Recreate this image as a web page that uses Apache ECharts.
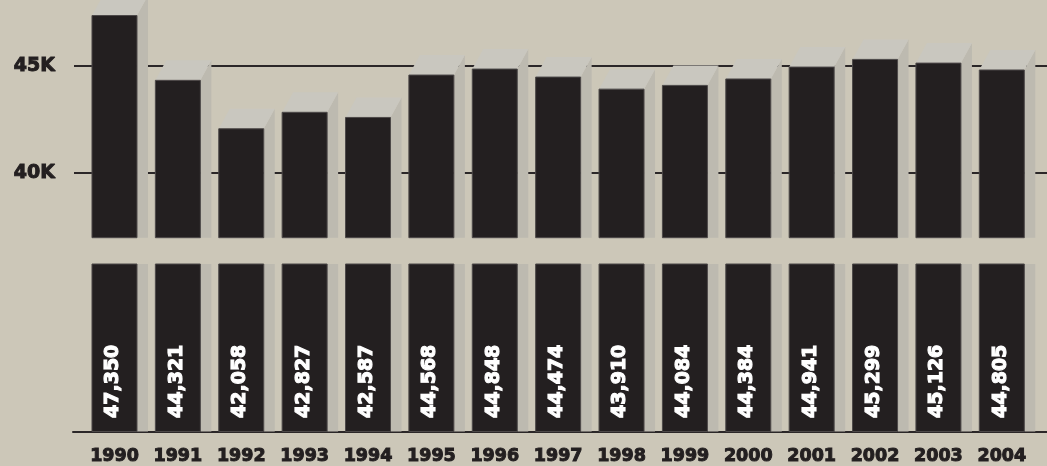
<!DOCTYPE html>
<html>
<head>
<meta charset="utf-8">
<script src="https://cdn.jsdelivr.net/npm/echarts@6/dist/echarts.min.js"></script>
<style>
  html, body { margin: 0; padding: 0; background: #ccc7b8; }
  #chart { width: 1047px; height: 466px; }
</style>
</head>
<body>
<div id="chart"></div>
<script>
// ---- data ----
const years = ['1990','1991','1992','1993','1994','1995','1996','1997','1998','1999','2000','2001','2002','2003','2004'];
const incomes = [47350, 44321, 42058, 42827, 42587, 44568, 44848, 44474, 43910, 44084, 44384, 44941, 45299, 45126, 44805];
const gridTicks = [40000, 45000];

// ---- style ----
const FRONT = '#231f20';
const EDGE = '#4d4949';
const TOPF = '#c9c7bf';
const SIDE = '#bdbab0';
const INK = '#231f20';
const DX = 11, DY = 20;
const BAR_RATIO = 45 / 63.38;
const FONT = '"DejaVu Sans", sans-serif';

function fmt(v) { return v.toLocaleString('en-US'); }

function renderUpper(params, api) {
  const cs = params.coordSys;
  const p = api.coord([api.value(0), api.value(1)]);
  const bw = api.size([1, 0])[0] * BAR_RATIO;
  const x0 = p[0] - bw / 2, x1 = p[0] + bw / 2;
  const yTop = p[1], yBot = cs.y + cs.height;
  return {
    type: 'group',
    children: [
      { type: 'polygon', shape: { points: [[x1, yBot], [x1, yTop], [x1 + DX, yTop - DY], [x1 + DX, yBot]] }, style: { fill: SIDE } },
      { type: 'polygon', shape: { points: [[x0, yTop], [x0 + DX, yTop - DY], [x1 + DX, yTop - DY], [x1, yTop]] }, style: { fill: TOPF } },
      { type: 'rect', shape: { x: x0, y: yTop, width: bw, height: yBot - yTop }, style: { fill: FRONT, stroke: EDGE, lineWidth: 1 } }
    ]
  };
}

function renderLower(params, api) {
  const cs = params.coordSys;
  const p = api.coord([api.value(0), 0]);
  const bw = api.size([1, 0])[0] * BAR_RATIO;
  const x0 = p[0] - bw / 2, x1 = p[0] + bw / 2;
  const yTop = cs.y, yBot = cs.y + cs.height;
  return {
    type: 'group',
    children: [
      { type: 'rect', shape: { x: x1, y: yTop, width: DX, height: yBot - yTop }, style: { fill: SIDE } },
      { type: 'rect', shape: { x: x0, y: yTop, width: bw, height: yBot - yTop }, style: { fill: FRONT, stroke: EDGE, lineWidth: 1 } },
      {
        type: 'text', x: p[0] - 1, y: yBot - 13.5, rotation: Math.PI / 2,
        style: {
          text: fmt(api.value(1)), fill: '#ffffff',
          fontFamily: FONT, fontWeight: 'bold', fontSize: 19,
          stroke: '#ffffff', lineWidth: 1.1,
          align: 'left', verticalAlign: 'middle'
        }
      }
    ]
  };
}

const chart = echarts.init(document.getElementById('chart'), null, { renderer: 'canvas' });
const upperData = years.map((y, i) => [i, incomes[i]]);

chart.setOption({
  backgroundColor: '#ccc7b8',
  animation: false,
  grid: [
    // 0: horizontal gridlines + y labels
    { left: 74, right: 0, top: 65.8, height: 107 },
    // 1: upper bars (broken axis upper part)
    { left: 82.8, right: 13.5, top: 0, height: 237.7 },
    // 2: lower bar stubs with labels
    { left: 82.8, right: 13.5, top: 264, height: 167.7 },
    // 3: baseline
    { left: 73, right: 0, top: 264, height: 167.7 }
  ],
  xAxis: [
    { gridIndex: 0, type: 'value', show: false, min: 0, max: 1 },
    { gridIndex: 1, type: 'category', data: years, show: false, boundaryGap: true },
    {
      gridIndex: 2, type: 'category', data: years, boundaryGap: true,
      axisLine: { show: false }, axisTick: { show: false },
      axisLabel: { color: INK, fontFamily: FONT, fontWeight: 'bold', fontSize: 17.5, margin: 16,
        textBorderColor: INK, textBorderWidth: 1 }
    },
    {
      gridIndex: 3, type: 'value', min: 0, max: 1,
      axisLine: { show: true, lineStyle: { color: '#2b2728', width: 2 } },
      axisTick: { show: false }, axisLabel: { show: false }, splitLine: { show: false }
    }
  ],
  yAxis: [
    {
      gridIndex: 0, type: 'value', min: gridTicks[0], max: gridTicks[1], interval: gridTicks[1] - gridTicks[0],
      axisLine: { show: false }, axisTick: { show: false },
      axisLabel: { color: INK, fontFamily: FONT, fontWeight: 'bold', fontSize: 19, margin: 19,
        textBorderColor: INK, textBorderWidth: 1,
        formatter: v => (v / 1000) + 'K' },
      splitLine: { show: true, lineStyle: { color: '#2b2728', width: 2 } }
    },
    { gridIndex: 1, type: 'value', min: 36967, max: 48075, show: false },
    { gridIndex: 2, type: 'value', min: 0, max: 1, show: false },
    { gridIndex: 3, type: 'value', min: 0, max: 1, show: false }
  ],
  series: [
    { type: 'custom', xAxisIndex: 1, yAxisIndex: 1, renderItem: renderUpper, data: upperData, clip: false, z: 3 },
    { type: 'custom', xAxisIndex: 2, yAxisIndex: 2, renderItem: renderLower, data: upperData, clip: false, z: 3 }
  ]
});
</script>
</body>
</html>
